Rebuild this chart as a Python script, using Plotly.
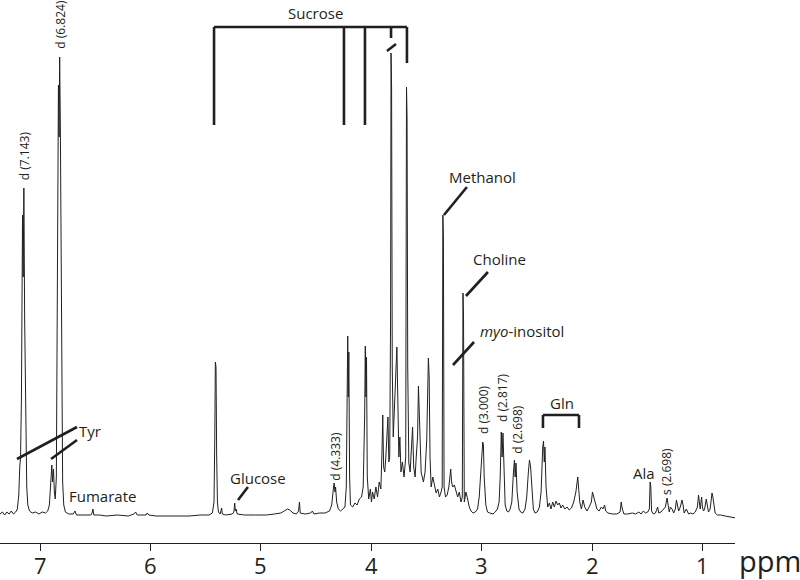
import plotly.graph_objects as go

# 1H NMR spectrum: (ppm, intensity) per region
aromatic = [
    (7.362, 3), (7.340, 5), (7.320, 2), (7.300, 5), (7.280, 3), (7.260, 6),
    (7.240, 3), (7.220, 5), (7.205, 8), (7.192, 22), (7.183, 50), (7.176, 60),
    (7.168, 120), (7.158, 302), (7.152, 240), (7.146, 329), (7.139, 200),
    (7.130, 90), (7.120, 30), (7.110, 12), (7.095, 6), (7.070, 4), (7.040, 5),
    (7.010, 3), (6.980, 5), (6.950, 4), (6.930, 6), (6.915, 12), (6.900, 40),
    (6.893, 52), (6.886, 35), (6.878, 48), (6.870, 25), (6.862, 18), (6.852, 40),
    (6.842, 200), (6.833, 432), (6.827, 380), (6.822, 460), (6.816, 392),
    (6.810, 300), (6.803, 120), (6.795, 35), (6.785, 12), (6.770, 5), (6.740, 3),
    (6.700, 3), (6.683, 6), (6.670, 2), (6.600, 2), (6.540, 2), (6.529, 4),
    (6.521, 8), (6.513, 2), (6.460, 2), (6.400, 1),
]

olefinic = [
    (6.300, 2), (6.200, 1), (6.150, 3), (6.135, 5), (6.120, 2), (6.040, 2),
    (6.030, 4), (6.015, 2), (5.950, 1), (5.850, 1), (5.750, 1), (5.650, 1),
    (5.550, 2), (5.470, 2), (5.440, 4), (5.425, 15), (5.418, 80), (5.413, 155),
    (5.407, 150), (5.401, 60), (5.394, 15), (5.385, 5), (5.370, 3), (5.356, 9),
    (5.350, 3), (5.320, 2), (5.260, 3), (5.245, 5), (5.238, 14), (5.232, 6),
    (5.225, 8), (5.215, 3), (5.150, 2), (5.050, 2), (4.950, 2), (4.880, 3),
    (4.820, 4), (4.790, 6), (4.760, 8), (4.740, 7), (4.710, 4), (4.680, 3),
    (4.660, 6), (4.652, 15), (4.645, 4), (4.600, 3), (4.550, 4), (4.535, 6),
    (4.520, 3), (4.470, 4),
]

sugar = [
    (4.420, 4), (4.380, 6), (4.360, 12), (4.345, 28), (4.338, 34), (4.330, 25),
    (4.325, 30), (4.315, 15), (4.300, 8), (4.280, 6), (4.260, 8), (4.240, 10),
    (4.228, 30), (4.220, 170), (4.215, 181), (4.210, 120), (4.205, 165),
    (4.198, 40), (4.190, 12), (4.170, 10), (4.150, 14), (4.130, 12), (4.110, 18),
    (4.090, 20), (4.075, 30), (4.062, 100), (4.056, 171), (4.050, 120),
    (4.045, 160), (4.038, 40), (4.025, 18), (4.010, 28), (4.000, 15), (3.990, 25),
    (3.975, 18), (3.960, 30), (3.945, 20), (3.930, 35), (3.915, 28), (3.905, 65),
    (3.898, 102), (3.890, 50), (3.880, 45), (3.870, 60), (3.858, 95), (3.851, 100),
    (3.843, 55), (3.835, 60), (3.827, 200), (3.823, 464), (3.818, 430),
    (3.812, 150), (3.803, 80), (3.790, 115), (3.778, 140), (3.770, 170),
    (3.762, 120), (3.752, 60), (3.743, 80), (3.733, 45), (3.720, 55), (3.705, 40),
    (3.690, 60), (3.683, 430), (3.678, 400), (3.672, 150), (3.662, 54),
    (3.650, 45), (3.638, 67), (3.628, 90), (3.618, 50), (3.605, 40), (3.595, 60),
    (3.583, 80), (3.575, 131), (3.568, 100), (3.560, 80), (3.550, 44), (3.540, 40),
    (3.530, 35), (3.515, 45), (3.500, 77), (3.485, 159), (3.478, 140), (3.470, 60),
    (3.460, 30), (3.445, 40), (3.430, 30), (3.415, 24), (3.400, 28), (3.385, 20),
    (3.370, 25), (3.360, 30), (3.354, 302), (3.349, 280), (3.343, 30), (3.330, 20),
    (3.315, 22), (3.300, 30), (3.290, 40), (3.283, 48), (3.275, 35), (3.265, 30),
    (3.250, 32), (3.235, 25), (3.220, 20), (3.205, 25), (3.190, 15), (3.178, 20),
    (3.172, 224), (3.167, 200), (3.160, 15), (3.145, 25), (3.130, 18), (3.115, 10),
    (3.100, 6), (3.080, 4), (3.060, 5), (3.040, 8), (3.025, 20), (3.010, 45),
    (3.000, 70), (2.993, 75), (2.987, 72), (2.980, 40), (2.965, 12), (2.950, 5),
]

aliphatic = [
    (2.930, 4), (2.900, 3), (2.880, 5), (2.860, 8), (2.845, 15), (2.835, 40),
    (2.825, 85), (2.818, 60), (2.810, 84), (2.800, 35), (2.790, 12), (2.775, 6),
    (2.760, 5), (2.745, 8), (2.730, 15), (2.715, 45), (2.706, 57), (2.700, 40),
    (2.692, 54), (2.682, 25), (2.665, 8), (2.650, 5), (2.630, 4), (2.610, 8),
    (2.595, 20), (2.580, 45), (2.570, 57), (2.560, 50), (2.550, 30), (2.535, 8),
    (2.520, 4), (2.500, 5), (2.480, 10), (2.465, 25), (2.450, 70), (2.443, 76),
    (2.436, 55), (2.430, 70), (2.420, 30), (2.405, 10), (2.390, 14), (2.375, 8),
    (2.360, 15), (2.345, 10), (2.330, 16), (2.315, 12), (2.300, 14), (2.285, 9),
    (2.270, 12), (2.250, 8), (2.230, 10), (2.210, 7), (2.190, 9), (2.170, 15),
    (2.150, 25), (2.140, 35), (2.133, 40), (2.126, 30), (2.115, 15), (2.100, 8),
    (2.085, 17), (2.070, 10), (2.050, 6), (2.030, 10), (2.010, 15), (2.000, 25),
    (1.993, 22), (1.985, 18), (1.975, 12), (1.960, 8), (1.940, 6), (1.920, 10),
    (1.905, 8), (1.890, 12), (1.880, 6), (1.860, 4), (1.820, 3), (1.780, 3),
    (1.750, 5), (1.740, 15), (1.730, 8), (1.715, 3), (1.680, 3), (1.640, 4),
    (1.610, 3), (1.580, 5), (1.560, 3), (1.540, 6), (1.520, 4), (1.500, 5),
    (1.485, 8), (1.478, 35), (1.472, 30), (1.465, 6), (1.450, 3), (1.430, 4),
    (1.410, 10), (1.400, 4), (1.380, 5), (1.360, 7), (1.340, 10), (1.325, 19),
    (1.315, 12), (1.305, 5), (1.295, 10), (1.280, 8), (1.265, 4), (1.250, 8),
    (1.240, 17), (1.230, 12), (1.220, 6), (1.205, 10), (1.190, 17), (1.180, 12),
    (1.170, 4), (1.150, 8), (1.130, 3), (1.110, 4), (1.090, 3), (1.070, 5),
    (1.050, 10), (1.040, 22), (1.033, 12), (1.025, 8), (1.012, 20), (1.005, 10),
    (0.995, 6), (0.985, 8), (0.970, 18), (0.962, 12), (0.950, 5), (0.935, 8),
    (0.918, 24), (0.910, 20), (0.900, 10), (0.890, 4), (0.870, 2), (0.840, 2),
    (0.800, 1), (0.760, 0), (0.720, -1), (0.700, -1),
]

tick_ppm = [7, 6, 5, 4, 3, 2, 1]

# labels: (text, ppm, intensity)
rotated_labels = [
    ("d (7.143)", 7.143, 361), ("d (6.824)", 6.822, 493),
    ("d (4.333)", 4.333, 61), ("d (3.000)", 2.990, 107),
    ("d (2.817)", 2.818, 119), ("d (2.698)", 2.685, 88),
    ("s (2.698)", 1.335, 46),
]
flat_labels = [
    ("Sucrose", 4.511, 504), ("Methanol", 2.991, 340), ("Choline", 2.837, 258),
    ("<i>myo</i>-inositol", 2.638, 186), ("Gln", 2.276, 114), ("Ala", 1.530, 44),
    ("Tyr", 6.547, 86), ("Fumarate", 6.430, 21), ("Glucose", 5.027, 39),
]

ink = "#231f20"
spectrum = aromatic + olefinic + sugar + aliphatic

fig = go.Figure(go.Scatter(
    x=[p for p, _ in spectrum],
    y=[v for _, v in spectrum],
    mode="lines",
    line=dict(color=ink, width=1),
    hoverinfo="skip",
))

for text, x, y in rotated_labels:
    fig.add_annotation(x=x, y=y, text=text, textangle=-90, showarrow=False,
                       font=dict(size=12, color=ink))
for text, x, y in flat_labels:
    fig.add_annotation(x=x, y=y, text=text, showarrow=False,
                       font=dict(size=15, color=ink))

# tick numbers as annotations so they sit just under the ticks
for v in tick_ppm:
    fig.add_annotation(x=v, xref="x", yref="paper", y=-0.04, yanchor="middle",
                       text=str(v), showarrow=False,
                       font=dict(size=22, color=ink))

fig.add_annotation(xref="paper", yref="paper", x=1.003, y=-0.033,
                   xanchor="left", yanchor="middle", text="ppm",
                   showarrow=False, font=dict(size=29, color=ink))


def seg(x0, y0, x1, y1, w=2.6):
    fig.add_shape(type="line", x0=x0, y0=y0, x1=x1, y1=y1,
                  line=dict(color=ink, width=w))


# sucrose bracket
seg(5.425, 490, 3.679, 490)
for xv, ybot in [(5.425, 392), (4.249, 392), (4.059, 392), (3.823, 479), (3.679, 454)]:
    seg(xv, 490, xv, ybot)
seg(3.860, 466, 3.778, 473)

# gln bracket
seg(2.448, 102, 2.122, 102)
seg(2.448, 102, 2.448, 89)
seg(2.122, 102, 2.122, 89)

# pointer slashes
seg(3.344, 302, 3.136, 330)
seg(3.145, 221, 2.946, 245)
seg(3.262, 152, 3.072, 175)
seg(5.208, 17, 5.118, 30)
seg(7.208, 58, 6.665, 90)
seg(6.900, 58, 6.665, 77)

fig.update_layout(
    width=800, height=580,
    margin=dict(l=0, r=65, t=0, b=37, autoexpand=False),
    paper_bgcolor="white", plot_bgcolor="white",
    showlegend=False,
    font=dict(family="Open Sans", color=ink),
    xaxis=dict(range=[7.362, 0.710], tickvals=tick_ppm, ticks="outside",
               ticklen=7, tickwidth=1.2, tickcolor=ink, showline=True,
               linecolor=ink, linewidth=1.3, showgrid=False, zeroline=False,
               showticklabels=False, automargin=False),
    yaxis=dict(range=[-26, 517], visible=False, automargin=False),
)

# drop the browser's default page margin so the figure sits at the corner
fig.write_html("out.html", config={"displayModeBar": False},
               post_script="document.body.style.margin='0';")
